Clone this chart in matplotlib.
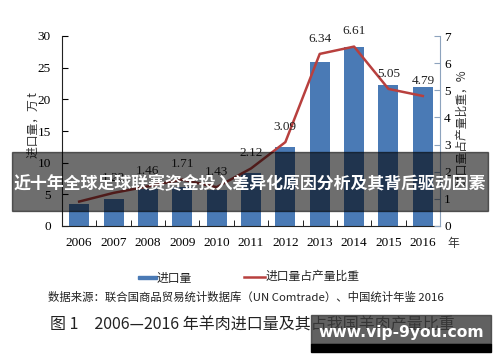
import matplotlib
matplotlib.use("Agg")
import matplotlib.pyplot as plt
from matplotlib.patches import Rectangle
from matplotlib.lines import Line2D

plt.rcParams['font.family'] = ['Noto Sans CJK SC', 'DejaVu Sans']

# Daten
years = ['2006', '2007', '2008', '2009', '2010', '2011', '2012', '2013', '2014', '2015', '2016']
imports = [3.5, 4.3, 5.9, 6.2, 5.7, 8.3, 12.4, 25.9, 28.3, 22.3, 22.0]
share = [0.90, 1.22, 1.46, 1.71, 1.43, 2.12, 3.09, 6.34, 6.61, 5.05, 4.79]
share_labels = ['', '1.22', '1.46', '1.71', '1.43', '2.12', '3.09', '6.34', '6.61', '5.05', '4.79']

W, H = 500, 362
bar_color = '#4a7ab5'
line_color = '#b8403e'
num_font = 'Liberation Serif'


def fx(x):
    return x / W


def fy(y):
    return 1 - y / H


fig = plt.figure(figsize=(5, 3.62), dpi=100)
ax = fig.add_axes([fx(62), fy(226), fx(440) - fx(62), fy(36) - fy(226)])
ax2 = ax.twinx()

x = list(range(len(years)))
ax.bar(x, imports, width=0.58, color=bar_color, zorder=2)
ax.set_xlim(-0.5, len(years) - 0.5)
ax.set_ylim(0, 30)
ax.set_yticks([0, 5, 10, 15, 20, 25, 30])
ax.set_xticks(x)
ax.set_xticklabels(years, fontfamily=num_font, fontsize=9.5)
for lab in ax.get_yticklabels():
    lab.set_fontfamily(num_font)
    lab.set_fontsize(9.5)
ax.tick_params(axis='y', direction='in', length=4, pad=8)
ax.tick_params(axis='x', length=0, pad=8)
ax.set_xticks([i + 0.5 for i in x[:-1]], minor=True)
ax.tick_params(axis='x', which='minor', direction='in', length=4)
ax.spines['top'].set_visible(False)
ax.spines['right'].set_visible(False)
ax.spines['left'].set_color('#222222')
ax.spines['bottom'].set_color('#222222')

ax2.plot(x, share, color=line_color, linewidth=1.8, zorder=3)
ax2.set_ylim(0, 7)
ax2.set_yticks(range(8))
for lab in ax2.get_yticklabels():
    lab.set_fontfamily(num_font)
    lab.set_fontsize(9.5)
ax2.tick_params(axis='y', direction='in', length=4, pad=3, color='#8da3bd')
ax2.spines['top'].set_visible(False)
ax2.spines['left'].set_visible(False)
ax2.spines['bottom'].set_visible(False)
ax2.spines['right'].set_color('#8da3bd')

for xi, v, t in zip(x, share, share_labels):
    if t:
        ax2.annotate(t, (xi, v), xytext=(0, 11), textcoords='offset points',
                     ha='center', va='center', fontfamily=num_font, fontsize=9.5,
                     color='#222222')

fig.text(fx(33), fy(125), '进口量，万 t', rotation=90, ha='center', va='center',
         fontsize=8.5, color='#333333')
fig.text(fx(462), fy(128), '进口量占产量比重，%', rotation=90, ha='center', va='center',
         fontsize=8.5, color='#333333')
fig.text(fx(453), fy(243), '年', ha='center', va='center', fontsize=8.5, color='#333333')

# Legende
fig.patches.append(Rectangle((fx(138), fy(279)), fx(19), fy(276) - fy(279),
                             transform=fig.transFigure, color=bar_color))
fig.text(fx(157), fy(278), '进口量', ha='left', va='center', fontsize=8.5, color='#222222')
fig.lines.append(Line2D([fx(244), fx(265)], [fy(277), fy(277)], transform=fig.transFigure,
                        color=line_color, linewidth=1.8))
fig.text(fx(266), fy(276), '进口量占产量比重', ha='left', va='center', fontsize=8.5,
         color='#222222')

fig.text(fx(246), fy(297), '数据来源：联合国商品贸易统计数据库（UN Comtrade）、中国统计年鉴 2016',
         ha='center', va='center', fontsize=8.2, color='#222222')
fig.text(fx(252), fy(325), '图 1　2006—2016 年羊肉进口量及其占我国羊肉产量比重',
         ha='center', va='center', fontsize=11.5, color='#222222')

# Banner
fig.patches.append(Rectangle((fx(12), fy(211)), fx(488) - fx(12), fy(152) - fy(211),
                             transform=fig.transFigure, color='black', alpha=0.57, zorder=10))
fig.text(fx(250), fy(184), '近十年全球足球联赛资金投入差异化原因分析及其背后驱动因素',
         ha='center', va='center', fontsize=12.2, fontweight='bold', color='white', zorder=11)

# Wasserzeichen
fig.patches.append(Rectangle((fx(311), fy(344)), fx(491) - fx(311), fy(315) - fy(344),
                             transform=fig.transFigure, color='#3a3a3a', alpha=0.8, zorder=10))
fig.patches.append(Rectangle((fx(311), fy(352)), fx(491) - fx(311), fy(344) - fy(352),
                             transform=fig.transFigure, color='black', zorder=10))
fig.text(fx(401), fy(333), 'www.vip-9you.com', ha='center', va='center', fontsize=11.2,
         fontweight='bold', color='white', fontfamily='DejaVu Sans', zorder=11)

fig.savefig('out.png', dpi=100)
